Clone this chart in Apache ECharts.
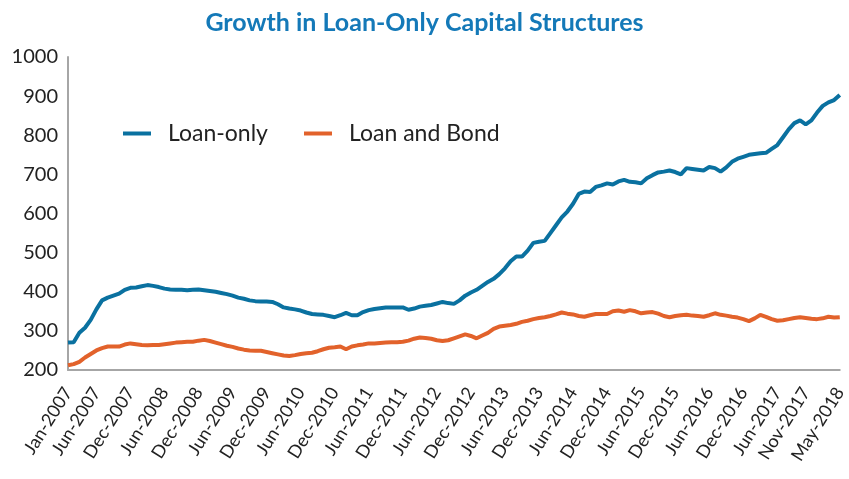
<!DOCTYPE html>
<html>
<head>
<meta charset="utf-8">
<script src="https://cdn.jsdelivr.net/npm/echarts@6/dist/echarts.min.js"></script>
<style>html,body{margin:0;padding:0;background:#fff}#c{width:849px;height:479px}</style>
</head>
<body>
<div id="c"></div>
<script>
var monthNames = ['Jan','Feb','Mar','Apr','May','Jun','Jul','Aug','Sep','Oct','Nov','Dec'];
var startYear = 2007, endYear = 2018, endMonth = 5; // Jan-2007 .. May-2018
var categories = [];
for (var y = startYear; y <= endYear; y++) {
  for (var m = 0; m < 12; m++) {
    if (y === endYear && m >= endMonth) break;
    categories.push(monthNames[m] + '-' + y);
  }
}
var tickLabels = ['Jan-2007','Jun-2007','Dec-2007','Jun-2008','Dec-2008','Jun-2009','Dec-2009','Jun-2010','Dec-2010','Jun-2011','Dec-2011','Jun-2012','Dec-2012','Jun-2013','Dec-2013','Jun-2014','Dec-2014','Jun-2015','Dec-2015','Jun-2016','Dec-2016','Jun-2017','Nov-2017','May-2018'];

var loanOnly = [270,271,295,308,328,355,378,385,390,395,405,410,411,414,417,415,412,408,406,405,
405,404,405,406,404,402,400,397,394,390,385,382,378,376,375,375,374,368,360,357,
355,352,347,343,342,341,338,335,340,346,340,340,348,353,356,358,360,360,360,360,
354,357,362,364,366,370,374,371,369,378,390,398,405,415,425,433,445,460,478,490,
490,505,525,528,530,550,570,590,605,625,650,656,655,668,672,677,674,682,686,681,
680,677,690,698,705,707,710,706,700,716,714,712,710,719,716,707,718,732,740,745,
750,752,754,755,765,775,795,815,831,838,828,838,858,875,884,890,903];

var loanBond = [212,215,221,232,241,250,256,260,260,260,265,268,266,264,263,264,264,266,268,270,
271,272,272,275,277,274,270,266,262,259,255,252,250,249,249,246,243,240,237,236,
238,241,243,244,248,253,257,258,260,253,260,263,265,268,268,269,270,271,271,272,
275,280,283,282,280,276,274,276,281,286,291,287,281,288,295,305,311,313,315,318,
323,326,330,333,335,338,342,347,344,342,338,336,340,343,343,343,350,352,349,353,
350,345,347,348,344,338,335,338,340,341,339,338,336,340,345,341,339,336,334,330,
325,332,341,336,330,326,327,330,333,335,333,331,330,332,336,334,335];

var yMin = 200, yMax = 1000, yStep = 100;
var seriesNames = ['Loan-only', 'Loan and Bond'];
var colors = ['#0a71a0', '#e2622b'];

var chart = echarts.init(document.getElementById('c'));
chart.setOption({
  animation: false,
  color: colors,
  title: {
    text: 'Growth in Loan-Only Capital Structures',
    left: 'center', top: 5,
    textStyle: { fontFamily: 'Lato', fontWeight: 'bold', fontSize: 25, color: '#1479b8' }
  },
  legend: {
    left: 118, top: 117,
    itemWidth: 28, itemHeight: 4, itemGap: 36,
    icon: 'rect',
    textStyle: { fontFamily: 'Lato', fontSize: 23, color: '#222', padding: [0, 0, 0, 12] },
    data: seriesNames
  },
  grid: { left: 68, right: 1, top: 57, bottom: 109, containLabel: false },
  xAxis: {
    type: 'category',
    data: categories,
    boundaryGap: false,
    axisLine: { lineStyle: { color: '#a6a6a6', width: 2 } },
    axisTick: { show: false },
    axisLabel: {
      rotate: 58,
      fontFamily: 'Lato', fontSize: 18, color: '#222',
      margin: 19,
      interval: function (idx, val) { return tickLabels.indexOf(val) >= 0; }
    },
    splitLine: { show: false }
  },
  yAxis: {
    type: 'value',
    min: yMin, max: yMax, interval: yStep,
    axisLine: { show: true, lineStyle: { color: '#a6a6a6', width: 2 } },
    axisTick: { show: false },
    axisLabel: { fontFamily: 'Lato', fontSize: 20, color: '#222', margin: 10, formatter: function (v) { return String(v); } },
    splitLine: { show: false }
  },
  series: [
    { name: seriesNames[0], type: 'line', data: loanOnly, symbol: 'none', lineStyle: { width: 4 } },
    { name: seriesNames[1], type: 'line', data: loanBond, symbol: 'none', lineStyle: { width: 4 } }
  ]
});
</script>
</body>
</html>
